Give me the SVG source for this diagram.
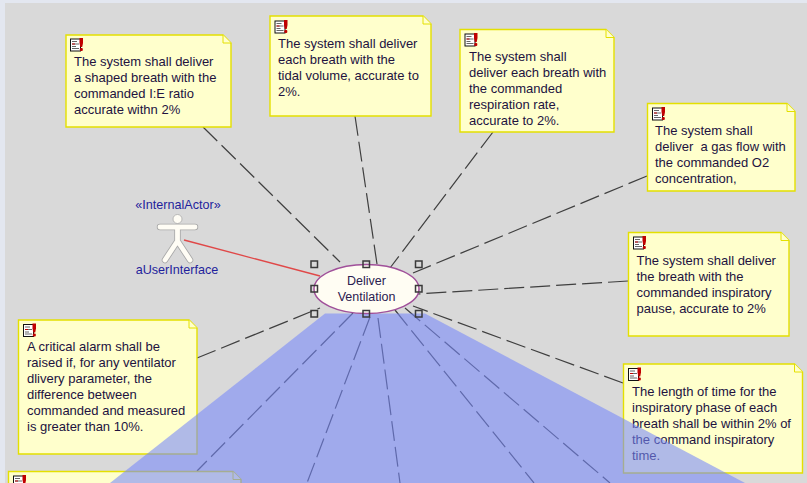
<svg xmlns="http://www.w3.org/2000/svg" width="807" height="483" viewBox="0 0 807 483">
<style>
text{font-family:"Liberation Sans",Arial,sans-serif;font-size:13px}
.nt{fill:#22123f}
.note{fill:#ffffcc;stroke:#e4e000;stroke-width:1.4}
.fold{fill:#ffffcc;stroke:#e4e000;stroke-width:1}
.dash{stroke:#3f3f3f;stroke-width:1.2;stroke-dasharray:20 6;fill:none}
.h{fill:none;stroke:#3a3a3a;stroke-width:1.500}
.act{fill:#1f1f9c;font-size:12.600px;text-anchor:middle}
</style>
<defs>
<g id="icon">
<rect x="0.5" y="1.5" width="10" height="12" fill="#fff" stroke="#111"/>
<path d="M2 4h5M2 6.500h7M2 9h4M2 11h7" stroke="#666" stroke-width="1"/>
<path d="M2 6.500h3" stroke="#c00000" stroke-width="1"/>
<path d="M9.500 0.500h3.500v5l-0.800 4h-1.900l-0.800-4z" fill="#c00000"/>
<rect x="9.800" y="10.500" width="3" height="3" rx="1" fill="#c00000"/>
</g>
</defs>
<rect width="807" height="483" fill="#e3e7f0"/>
<rect x="5" y="3" width="802" height="480" fill="#d9d9d9"/>
<g id="connectors">
<path class="dash" d="M203 127L340 262"/>
<path class="dash" d="M355 116L377 264"/>
<path class="dash" d="M493 132L390 268"/>
<path class="dash" d="M647 176L413 273"/>
<path class="dash" d="M628 281L417 294"/>
<path class="dash" d="M623 383L413 306"/>
<path class="dash" d="M197 358L320 308"/>
<path class="dash" d="M353 313L197 471"/>
<path class="dash" d="M370 317L307 483"/>
<path class="dash" d="M378 318L400 483"/>
<path class="dash" d="M395 310L534 483"/>
<path class="dash" d="M405 308L610 483"/>
<path d="M184 240L320 276" stroke="#e04848" stroke-width="1.300" fill="none"/>
</g>
<g id="note1">
<path class="note" d="M66 35H223L231 43V127H66Z"/><path class="fold" d="M223 35V43H231"/>
<use href="#icon" x="70" y="37.500"/>
<text class="nt" x="74" y="66">The system shall deliver</text>
<text class="nt" x="74" y="82">a shaped breath with the</text>
<text class="nt" x="74" y="98">commanded I:E ratio</text>
<text class="nt" x="74" y="114">accurate withn 2%</text>
</g>
<g id="note2">
<path class="note" d="M270 16H423L431 24V116H270Z"/><path class="fold" d="M423 16V24H431"/>
<use href="#icon" x="274.500" y="19.500"/>
<text class="nt" x="278" y="48">The system shall deliver</text>
<text class="nt" x="278" y="64">each breath with the</text>
<text class="nt" x="278" y="80">tidal volume, accurate to</text>
<text class="nt" x="278" y="96">2%.</text>
</g>
<g id="note3">
<path class="note" d="M460 29.500H606L614 37.500V132H460Z"/><path class="fold" d="M606 29.500V37.500H614"/>
<use href="#icon" x="464.500" y="32.500"/>
<text class="nt" x="469" y="61">The system shall</text>
<text class="nt" x="469" y="77">deliver each breath with</text>
<text class="nt" x="469" y="93">the commanded</text>
<text class="nt" x="469" y="109">respiration rate,</text>
<text class="nt" x="469" y="125">accurate to 2%.</text>
</g>
<g id="note4">
<path class="note" d="M647.500 103.500H787L795 111.500V191H647.500Z"/><path class="fold" d="M787 103.500V111.500H795"/>
<use href="#icon" x="652" y="106.500"/>
<text class="nt" x="655" y="135">The system shall</text>
<text class="nt" x="655" y="151" xml:space="preserve">deliver  a gas flow with</text>
<text class="nt" x="655" y="167">the commanded O2</text>
<text class="nt" x="655" y="183">concentration,</text>
</g>
<g id="note5">
<path class="note" d="M628.500 232.500H781L789 240.500V336H628.500Z"/><path class="fold" d="M781 232.500V240.500H789"/>
<use href="#icon" x="633" y="235.500"/>
<text class="nt" x="636.500" y="265">The system shall deliver</text>
<text class="nt" x="636.500" y="281">the breath with the</text>
<text class="nt" x="636.500" y="297">commanded inspiratory</text>
<text class="nt" x="636.500" y="313">pause, accurate to 2%</text>
</g>
<g id="note6">
<path class="note" d="M623.500 364H794.500L802.500 372V473H623.500Z"/><path class="fold" d="M794.500 364V372H802.500"/>
<use href="#icon" x="628" y="367"/>
<text class="nt" x="632" y="396">The length of time for the</text>
<text class="nt" x="632" y="412">inspiratory phase of each</text>
<text class="nt" x="632" y="428">breath shall be within 2% of</text>
<text class="nt" x="632" y="444">the command inspiratory</text>
<text class="nt" x="632" y="460">time.</text>
</g>
<g id="note7">
<path class="note" d="M18.500 320H189L197 328V454H18.500Z"/><path class="fold" d="M189 320V328H197"/>
<use href="#icon" x="23" y="323"/>
<text class="nt" x="27" y="351">A critical alarm shall be</text>
<text class="nt" x="27" y="367">raised if, for any ventilator</text>
<text class="nt" x="27" y="383">dlivery parameter, the</text>
<text class="nt" x="27" y="399">difference between</text>
<text class="nt" x="27" y="415">commanded and measured</text>
<text class="nt" x="27" y="431">is greater than 10%.</text>
</g>
<g id="note8">
<path class="note" d="M8.500 471.500H233L241 479.500V490H8.500Z"/><path class="fold" d="M233 471.500V479.500H241"/>
<use href="#icon" x="13" y="474.500"/>
</g>
<path id="selection" d="M325 313.500H425L745 483H110Z" fill="#7788fa" fill-opacity="0.58"/>
<g id="actor">
<text class="act" x="178" y="209">«InternalActor»</text>
<circle cx="177.500" cy="219" r="4.500" fill="#fffdf5" stroke="#aaa" stroke-width="0.800"/>
<path d="M160 227H195M177.500 227V241M177.500 241L165 260M177.500 241L190 260" fill="none" stroke="#a9a9a9" stroke-width="6.500" stroke-linecap="round"/>
<path d="M160 227H195M177.500 227V241M177.500 241L165 260M177.500 241L190 260" fill="none" stroke="#fffdf5" stroke-width="4.800" stroke-linecap="round"/>
<text class="act" x="177" y="274">aUserInterface</text>
</g>
<g id="usecase">
<ellipse cx="366.500" cy="289" rx="52.500" ry="24.500" fill="#fffdf3" stroke="#a0509a" stroke-width="1.500"/>
<text x="366.500" y="285" text-anchor="middle" fill="#2a2050" style="font-size:12.500px">Deliver</text>
<text x="366.500" y="301" text-anchor="middle" fill="#2a2050" style="font-size:12.500px">Ventilation</text>
<rect class="h" x="311" y="261" width="6.500" height="6.500"/>
<rect class="h" x="363" y="261" width="6.500" height="6.500"/>
<rect class="h" x="415.500" y="261" width="6.500" height="6.500"/>
<rect class="h" x="311" y="285.500" width="6.500" height="6.500"/>
<rect class="h" x="415.500" y="285.500" width="6.500" height="6.500"/>
<rect class="h" x="311" y="310.500" width="6.500" height="6.500"/>
<rect class="h" x="363" y="310.500" width="6.500" height="6.500"/>
<rect class="h" x="415.500" y="310.500" width="6.500" height="6.500"/>
</g>
</svg>
